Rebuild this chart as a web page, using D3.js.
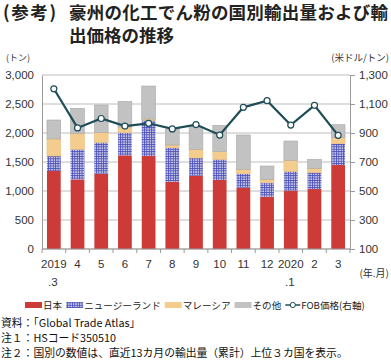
<!DOCTYPE html>
<html><head><meta charset="utf-8">
<script src="https://cdn.jsdelivr.net/npm/d3@7"></script>
<style>
body{margin:0;background:#fff;}
svg{display:block;font-family:"Noto Sans CJK JP","Noto Sans",sans-serif;}
</style></head><body>
<script>
const categories = ["2019\n.3","4","5","6","7","8","9","10","11","12","2020\n.1","2","3"];
const japan = [1345,1200,1298,1615,1603,1160,1264,1190,1057,902,1006,1034,1448];
const newZealand = [258,519,541,391,615,587,305,356,241,241,333,288,368];
const malaysia = [294,269,167,97,23,46,150,132,76,58,190,69,103];
const others = [327,437,477,443,569,276,390,454,592,230,333,155,224];
const fobPrice = [1205,935,1000,948,967,928,958,886,1077,1123,955,1091,884];
const leftTicks = [0,500,1000,1500,2000,2500,3000];
const rightTicks = [100,300,500,700,900,1100,1300];
const seriesNames = ["日本","ニュージーランド","マレーシア","その他"];
const lineName = "FOB価格(右軸)";

const W=391,H=362;
const m={l:42,r:350,t:75,b:249};
const svg=d3.select("body").append("svg").attr("width",W).attr("height",H);
const defs=svg.append("defs");
const pat=defs.append("pattern").attr("id","nz").attr("patternUnits","userSpaceOnUse").attr("width",2.4).attr("height",2.4);
pat.append("rect").attr("width",2.4).attr("height",2.4).attr("fill","#4d51b8");
pat.append("rect").attr("x",1).attr("y",1).attr("width",1.3).attr("height",1.3).attr("fill","#fff");

const x=d3.scaleBand().domain(d3.range(categories.length)).range([m.l,m.r]).paddingInner(0.42).paddingOuter(0.21);
const yL=d3.scaleLinear().domain([0,3000]).range([m.b,m.t]);
const yR=d3.scaleLinear().domain([100,1300]).range([m.b,m.t]);

// title
svg.append("text").attr("x",3).attr("y",19).attr("font-size",17.5).attr("font-weight","bold").attr("fill","#222").attr("textLength",53).text("(参考)");
svg.append("text").attr("x",69).attr("y",19).attr("font-size",17.5).attr("font-weight","bold").attr("fill","#222").attr("textLength",319).text("豪州の化工でん粉の国別輸出量および輸");
svg.append("text").attr("x",69).attr("y",42).attr("font-size",17.5).attr("font-weight","bold").attr("fill","#222").text("出価格の推移");

svg.append("text").attr("x",6).attr("y",61).attr("font-size",9).attr("fill","#333").text("(トン)");
svg.append("text").attr("x",389).attr("y",61).attr("font-size",9.5).attr("fill","#333").attr("text-anchor","end").text("(米ドル/トン)");

// grid
svg.append("g").selectAll("line").data(leftTicks).join("line")
 .attr("x1",m.l).attr("x2",m.r).attr("y1",d=>yL(d)).attr("y2",d=>yL(d))
 .attr("stroke","#bdbdbd").attr("stroke-width",1);

// left axis
const gL=svg.append("g").attr("transform",`translate(${m.l},0)`)
 .call(d3.axisLeft(yL).tickValues(leftTicks).tickFormat(d3.format(",")).tickSize(0).tickPadding(8));
gL.select(".domain").attr("stroke","#9a9a9a");
gL.selectAll("text").attr("font-size",11.5).attr("fill","#333").attr("font-family","Liberation Sans, Arial, sans-serif");

// right axis
const gR=svg.append("g").attr("transform",`translate(${m.r},0)`)
 .call(d3.axisRight(yR).tickValues(rightTicks).tickFormat(d3.format(",")).tickSize(5).tickPadding(4));
gR.select(".domain").attr("stroke","#9a9a9a");
gR.selectAll(".tick line").attr("stroke","#9a9a9a");
gR.selectAll("text").attr("font-size",11.5).attr("fill","#333").attr("font-family","Liberation Sans, Arial, sans-serif");

// bars
const data=categories.map((c,i)=>({i,japan:japan[i],nz:newZealand[i],my:malaysia[i],ot:others[i]}));
const stack=d3.stack().keys(["japan","nz","my","ot"])(data);
const fills=["#cc3b37","url(#nz)","#f4cd8e","#c2c2c2"];
const strokes=["#cc3b37","#4d51b8","#e9bf7c","#a8a8a8"];
stack.forEach((s,k)=>{
 svg.append("g").selectAll("rect").data(s).join("rect")
  .attr("x",d=>x(d.data.i)).attr("width",x.bandwidth())
  .attr("y",d=>yL(d[1])).attr("height",d=>yL(d[0])-yL(d[1]))
  .attr("fill",fills[k]).attr("stroke",k>=2?strokes[k]:"none").attr("stroke-width",0.6);
});

// x axis
svg.append("line").attr("x1",m.l).attr("x2",m.r).attr("y1",m.b).attr("y2",m.b).attr("stroke","#9a9a9a");
const step=x.step();
svg.append("g").selectAll("line").data(d3.range(categories.length+1)).join("line")
 .attr("x1",i=>m.l+i*step).attr("x2",i=>m.l+i*step).attr("y1",m.b).attr("y2",m.b+4).attr("stroke","#9a9a9a");
const xl=svg.append("g").selectAll("text").data(categories).join("text")
 .attr("text-anchor","middle").attr("font-size",11.5).attr("fill","#333").attr("font-family","Liberation Sans, Arial, sans-serif");
xl.each(function(d,i){
 const parts=d.split("\n");
 const t=d3.select(this);
 parts.forEach((p,j)=>t.append("tspan").attr("x",x(i)+x.bandwidth()/2+(j? -1:0)).attr("y",268+j*18).text(p));
});
svg.append("text").attr("x",389).attr("y",277).attr("font-size",10).attr("fill","#333").attr("text-anchor","end").text("(年.月)");

// line
const line=d3.line().x((d,i)=>x(i)+x.bandwidth()/2).y(d=>yR(d));
svg.append("path").datum(fobPrice).attr("d",line).attr("fill","none").attr("stroke","#1e4d58").attr("stroke-width",2.2);
svg.append("g").selectAll("circle").data(fobPrice).join("circle")
 .attr("cx",(d,i)=>x(i)+x.bandwidth()/2).attr("cy",d=>yR(d)).attr("r",3)
 .attr("fill","#fff").attr("stroke","#1e4d58").attr("stroke-width",1.2);

// legend (sequential layout)
const lg=svg.append("g").attr("font-size",9.6).attr("fill","#222");
let cx=25;
const ly=305;
seriesNames.forEach((n,k)=>{
 lg.append("rect").attr("x",cx).attr("y",ly-3).attr("width",17).attr("height",6).attr("fill",fills[k]);
 cx+=18;
 const t=lg.append("text").attr("x",cx).attr("y",ly+3.5).text(n);
 cx+=t.node().getComputedTextLength()+4;
});
lg.append("line").attr("x1",cx).attr("x2",cx+15).attr("y1",ly).attr("y2",ly).attr("stroke","#1e4d58").attr("stroke-width",1.5);
lg.append("circle").attr("cx",cx+7.5).attr("cy",ly).attr("r",2.6).attr("fill","#fff").attr("stroke","#1e4d58").attr("stroke-width",1);
lg.append("text").attr("x",cx+16).attr("y",ly+3.5).text(lineName);

// notes
const notes=["資料：「Global Trade Atlas」","注１：HSコード350510","注２：国別の数値は、直近13カ月の輸出量（累計）上位３カ国を表示。"];
svg.append("g").selectAll("text").data(notes).join("text")
 .attr("x",1).attr("y",(d,i)=>327+i*15).attr("font-size",10.8).attr("fill","#111").text(d=>d);
</script>
</body></html>
